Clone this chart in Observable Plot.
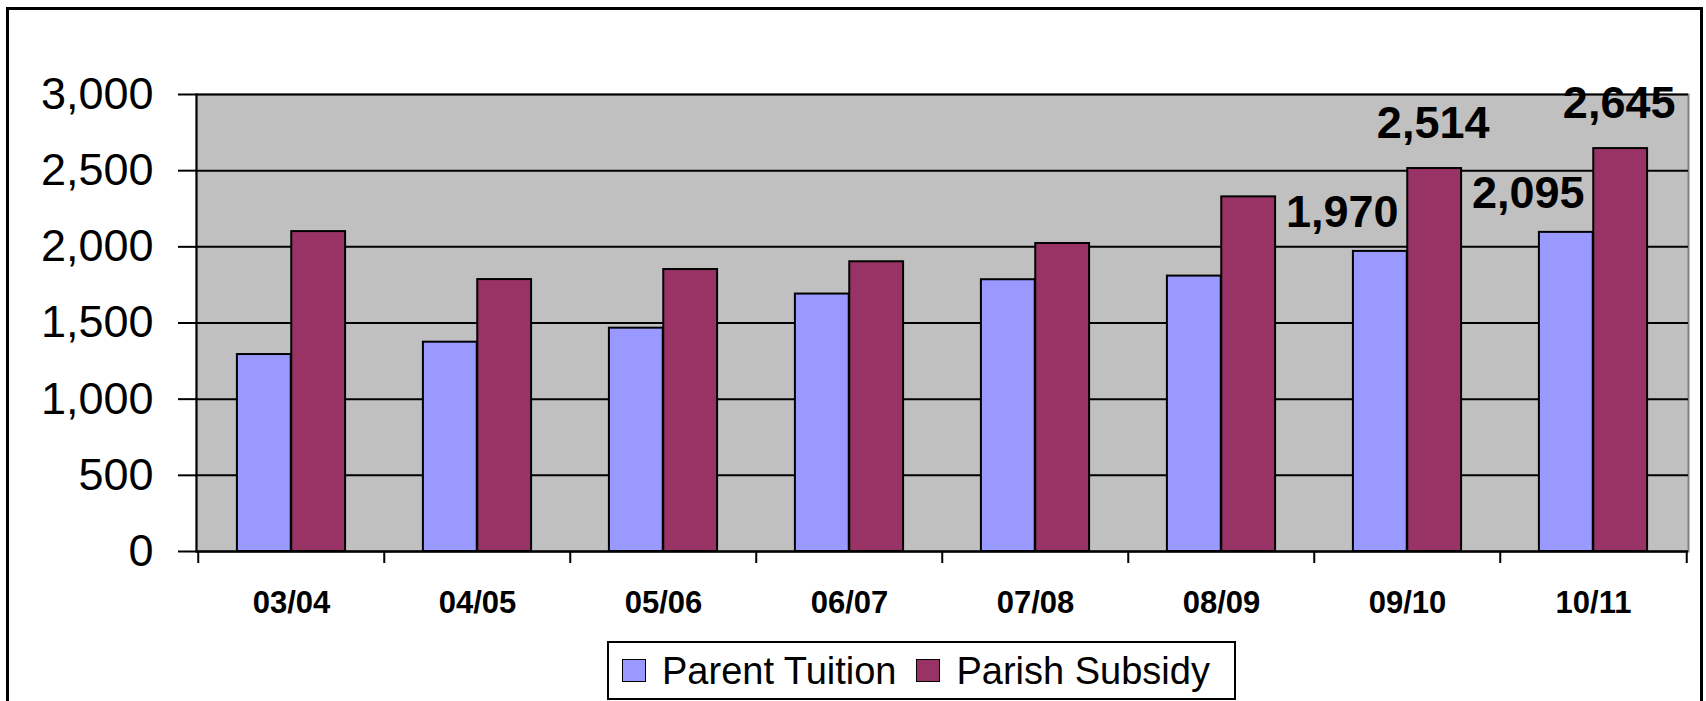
<!DOCTYPE html>
<html>
<head>
<meta charset="utf-8">
<script src="https://cdn.jsdelivr.net/npm/d3@7"></script>
<script src="https://cdn.jsdelivr.net/npm/@observablehq/plot@0.6"></script>
<style>
  html, body { margin: 0; padding: 0; background: #fff; overflow: hidden; }
  body { width: 1706px; height: 701px; position: relative; font-family: "Liberation Sans", Arial, sans-serif; }
  #border { position: absolute; left: 6px; top: 7px; width: 1697px; height: 760px; border: 3px solid #000; box-sizing: border-box; }
  #chart { position: absolute; left: 0; top: 0; }
  #legend { position: absolute; left: 607px; top: 641px; width: 629px; height: 59px; border: 2px solid #000; box-sizing: border-box;
            display: flex; align-items: center; background: #fff; font-size: 38px; color: #000; }
  #legend .sw { width: 22px; height: 21px; border: 1.5px solid #000; flex: none; }
  #legend .lab { white-space: nowrap; line-height: 1; }
</style>
</head>
<body>
<div id="border"></div>
<div id="chart"></div>
<div id="legend"></div>
<script>
// ---- data ----
const seasons = ["03/04", "04/05", "05/06", "06/07", "07/08", "08/09", "09/10", "10/11"];
const parentTuition = [1293, 1374, 1466, 1690, 1784, 1808, 1970, 2095];
const parishSubsidy = [2100, 1785, 1851, 1902, 2022, 2328, 2514, 2645];
const seriesNames = ["Parent Tuition", "Parish Subsidy"];
const seriesColors = ["#9999FF", "#993366"];
const labeledSeasons = ["09/10", "10/11"];
const yTicks = [0, 500, 1000, 1500, 2000, 2500, 3000];

// ---- layout ----
const W = 1706, H = 640, ML = 196, MR = 18, MT = 94, MB = 89;
const step = (W - ML - MR) / seasons.length;
const barFrac = 0.2914;               // bar width as a fraction of the category step
const outer = step * (0.5 - barFrac);

const rows = [];
seasons.forEach((s, i) => {
  rows.push({season: s, series: seriesNames[0], value: parentTuition[i]});
  rows.push({season: s, series: seriesNames[1], value: parishSubsidy[i]});
});
const parentRows = rows.filter(d => d.series === seriesNames[0]);
const parishRows = rows.filter(d => d.series === seriesNames[1]);
const fmt = d3.format(",");

const chart = Plot.plot({
  width: W, height: H,
  marginLeft: ML, marginRight: MR, marginTop: MT, marginBottom: MB,
  style: {fontFamily: "'Liberation Sans', Arial, sans-serif", color: "#000", background: "transparent", overflow: "visible"},
  x: {type: "band", domain: seasons, padding: 0, axis: null, label: null},
  y: {domain: [0, 3000], axis: null, label: null},
  color: {domain: seriesNames, range: seriesColors},
  marks: [
    Plot.frame({fill: "#c0c0c0", stroke: "#808080", strokeWidth: 2}),
    Plot.gridY({ticks: yTicks, stroke: "#000", strokeOpacity: 1, strokeWidth: 2}),
    Plot.barY(parentRows, {x: "season", y: "value", fill: "series", stroke: "#000", strokeWidth: 2,
      insetLeft: outer, insetRight: step / 2}),
    Plot.barY(parishRows, {x: "season", y: "value", fill: "series", stroke: "#000", strokeWidth: 2,
      insetLeft: step / 2, insetRight: outer}),
    Plot.frame({anchor: "left", stroke: "#000", strokeWidth: 2}),
    Plot.ruleY([0], {stroke: "#000", strokeWidth: 2}),
    Plot.axisY({ticks: yTicks, tickSize: 18, tickPadding: 25, tickFormat: fmt, fontSize: 45, strokeWidth: 2, label: null}),
    Plot.axisX({tickSize: 0, tickPadding: 39, fontSize: 31, fontWeight: "bold", label: null}),
    Plot.axisX({tickSize: 12, tickFormat: () => "", dx: -step / 2, strokeWidth: 2, label: null}),
    Plot.axisX({ticks: [seasons[seasons.length - 1]], tickSize: 12, tickFormat: () => "", dx: step / 2, strokeWidth: 2, label: null}),
    Plot.text(parentRows.filter(d => labeledSeasons.includes(d.season)), {
      x: "season", y: "value", text: d => fmt(d.value), lineAnchor: "bottom",
      dx: -step * barFrac / 2 - 38, dy: -24, fontSize: 45, fontWeight: "bold", fill: "#000"}),
    Plot.text(parishRows.filter(d => labeledSeasons.includes(d.season)), {
      x: "season", y: "value", text: d => fmt(d.value), lineAnchor: "bottom",
      dx: step * barFrac / 2 - 1.5, dy: -31, fontSize: 45, fontWeight: "bold", fill: "#000"})
  ]
});
document.getElementById("chart").appendChild(chart);

// ---- legend ----
const legend = document.getElementById("legend");
seriesNames.forEach((name, i) => {
  const sw = document.createElement("span");
  sw.className = "sw";
  sw.style.background = seriesColors[i];
  sw.style.marginLeft = i === 0 ? "13px" : "20px";
  sw.style.marginRight = "16px";
  const lab = document.createElement("span");
  lab.className = "lab";
  lab.textContent = name;
  legend.appendChild(sw);
  legend.appendChild(lab);
});
</script>
</body>
</html>
